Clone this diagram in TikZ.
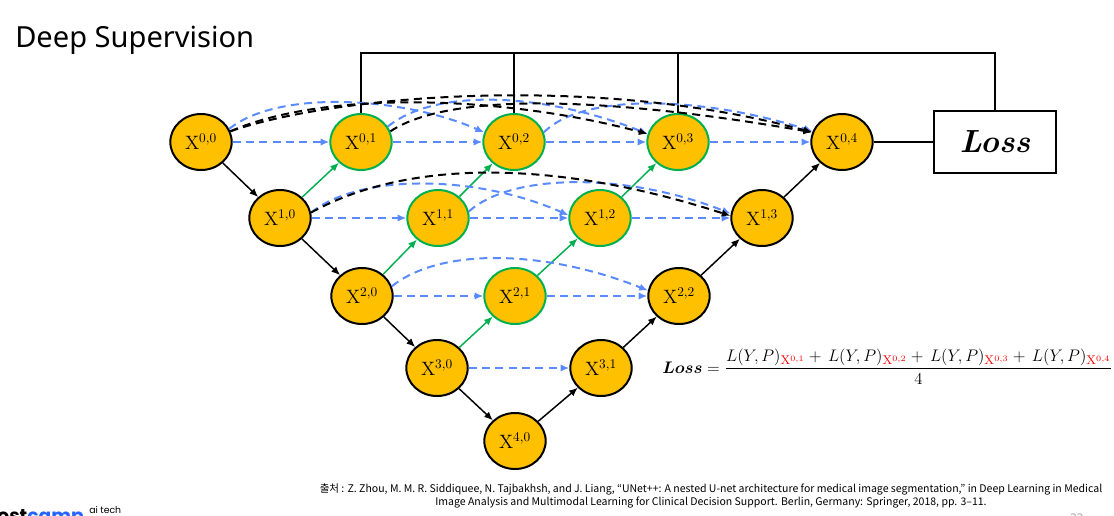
\documentclass[tikz,border=0pt]{standalone}
\usepackage{amsmath}
\usepackage{bm}
\usepackage{graphicx}
\usepackage{fontspec}
\usetikzlibrary{shapes.geometric,arrows.meta}
\newfontfamily\krfont{Noto Sans CJK KR}
\newfontfamily\titlefont{Noto Sans}
\newfontfamily\logofont{Poppins}
\definecolor{gold}{HTML}{FFC000}
\definecolor{ugreen}{HTML}{00B050}
\definecolor{ublue}{RGB}{90,138,255}
\definecolor{campblue}{RGB}{40,100,255}
\tikzset{
  unode/.style={ellipse, fill=gold, line width=1.5pt, minimum width=46pt, minimum height=42pt,
    inner sep=0pt, font=\fontsize{14.5}{16}\selectfont},
  encnode/.style={unode, draw=black},
  decnode/.style={unode, draw=ugreen},
  tipk/.style={-{Latex[length=6.5pt,width=5.5pt]}},
  downarrow/.style={tipk, line width=1.1pt, draw=black},
  greenarrow/.style={tipk, line width=1.1pt, draw=ugreen, color=ugreen},
  blueskip/.style={tipk, line width=1.5pt, draw=ublue, color=ublue, dash pattern=on 6pt off 4pt},
  blackskip/.style={tipk, line width=1.5pt, draw=black, dash pattern=on 6pt off 4pt},
  busline/.style={line width=1.6pt, draw=black},
}
\begin{document}
\begin{tikzpicture}[x=0.75pt,y=-0.75pt]
\useasboundingbox (0,0) rectangle (1114,515);

% title
\node[anchor=base west, font=\titlefont\fontsize{21.8}{24}\selectfont, inner sep=0pt] (title) at (15,47) {Deep Supervision};

% nodes
\node[encnode] (X00) at (201,142) {$\mathrm{X}^{0,0}$};
\node[decnode] (X01) at (361,142) {$\mathrm{X}^{0,1}$};
\node[decnode] (X02) at (514,142) {$\mathrm{X}^{0,2}$};
\node[decnode] (X03) at (678,142) {$\mathrm{X}^{0,3}$};
\node[encnode] (X04) at (842,142) {$\mathrm{X}^{0,4}$};
\node[encnode] (X10) at (280,218) {$\mathrm{X}^{1,0}$};
\node[decnode] (X11) at (438,218) {$\mathrm{X}^{1,1}$};
\node[decnode] (X12) at (600,218) {$\mathrm{X}^{1,2}$};
\node[encnode] (X13) at (762,218) {$\mathrm{X}^{1,3}$};
\node[encnode] (X20) at (362,296) {$\mathrm{X}^{2,0}$};
\node[decnode] (X21) at (515,296) {$\mathrm{X}^{2,1}$};
\node[encnode] (X22) at (679,296) {$\mathrm{X}^{2,2}$};
\node[encnode] (X30) at (437,368) {$\mathrm{X}^{3,0}$};
\node[encnode] (X31) at (601,368) {$\mathrm{X}^{3,1}$};
\node[encnode] (X40) at (515,441) {$\mathrm{X}^{4,0}$};

% loss box
\node[draw, line width=1.6pt, minimum width=92pt, minimum height=47pt,
      font=\fontsize{24}{26}\selectfont\bfseries\itshape] (loss) at (995,142) {Loss};
\draw[busline] (X04.east) -- (loss.west);

% top bus
\coordinate (bus) at (995,53);
\draw[busline] (X01.north) |- (bus) -- (loss.north);
\draw[busline] (X02.north) -- (X02.north |- bus);
\draw[busline] (X03.north) -- (X03.north |- bus);

% encoder / decoder path
\draw[downarrow] (X00) -- (X10);
\draw[downarrow] (X10) -- (X20);
\draw[downarrow] (X20) -- (X30);
\draw[downarrow] (X30) -- (X40);
\draw[downarrow] (X40) -- (X31);
\draw[downarrow] (X31) -- (X22);
\draw[downarrow] (X22) -- (X13);
\draw[downarrow] (X13) -- (X04);

% upsampling
\draw[greenarrow] (X10) -- (X01);
\draw[greenarrow] (X11) -- (X02);
\draw[greenarrow] (X12) -- (X03);
\draw[greenarrow] (X20) -- (X11);
\draw[greenarrow] (X21) -- (X12);
\draw[greenarrow] (X30) -- (X21);

% straight skips
\draw[blueskip] (X00) -- (X01);
\draw[blueskip] (X01) -- (X02);
\draw[blueskip] (X02) -- (X03);
\draw[blueskip] (X03) -- (X04);
\draw[blueskip] (X10) -- (X11);
\draw[blueskip] (X11) -- (X12);
\draw[blueskip] (X12) -- (X13);
\draw[blueskip] (X20) -- (X21);
\draw[blueskip] (X21) -- (X22);
\draw[blueskip] (X30) -- (X31);

% curved skips
\draw[blueskip] (X00.25) .. controls +(50,-40) and +(-80,-35) .. (X02.162);
\draw[blueskip] (X01.30) .. controls +(50,-40) and +(-100,-40) .. (X03.165);
\draw[blueskip] (X02.18) .. controls +(40,-40) and +(-110,-35) .. (X04.160);
\draw[blueskip] (X10.10) .. controls +(50,-40) and +(-90,-40) .. (X12.175);
\draw[blueskip] (X11.12) .. controls +(45,-40) and +(-100,-40) .. (X13.172);
\draw[blueskip] (X20.18) .. controls +(50,-40) and +(-100,-40) .. (X22.170);
\draw[blackskip] (X00.20) .. controls +(90,-40) and +(-150,-40) .. (X03.165);
\draw[blackskip] (X00.20) .. controls +(100,-35) and +(-220,-60) .. (X04.162);
\draw[blackskip] (X01.20) .. controls +(60,-40) and +(-200,-35) .. (X04.162);
\draw[blackskip] (X10.10) .. controls +(100,-55) and +(-170,-55) .. (X13.176);

% formula
\node[anchor=base west, inner sep=0pt, font=\fontsize{13}{15}\selectfont] (formula) at (662,373)
  {\scalebox{1.045}{$\bm{Loss} = \dfrac{L(Y,P)_{\textcolor{red}{\mathrm{X}^{0,1}}} + \, L(Y,P)_{\textcolor{red}{\mathrm{X}^{0,2}}} + \, L(Y,P)_{\textcolor{red}{\mathrm{X}^{0,3}}} + \, L(Y,P)_{\textcolor{red}{\mathrm{X}^{0,4}}}}{4}$}};

% citation
\node[anchor=north, align=center, inner sep=0pt, font=\krfont\fontsize{7.9}{10}\selectfont] (cite) at (711,483)
  {출처 : Z. Zhou, M. M. R. Siddiquee, N. Tajbakhsh, and J. Liang, “UNet++: A nested U-net architecture for medical image segmentation,” in Deep Learning in Medical\\
   Image Analysis and Multimodal Learning for Clinical Decision Support. Berlin, Germany: Springer, 2018, pp. 3–11.};

% logo (cut by page edge, as in the reference)
\node[anchor=base east, inner sep=0pt, font=\logofont\bfseries\fontsize{14}{16}\selectfont] (logo) at (84,522) {boost\textcolor{campblue}{camp}};
\node[anchor=base west, inner sep=0pt, font=\logofont\fontsize{7}{8}\selectfont] (aitech) at (89,513) {ai tech};

% page number (cut, as in the reference)
\node[anchor=base west, inner sep=0pt, text=black!35, font=\krfont\fontsize{9}{10}\selectfont] (pagenum) at (1070,522) {22};
\end{tikzpicture}
\end{document}
